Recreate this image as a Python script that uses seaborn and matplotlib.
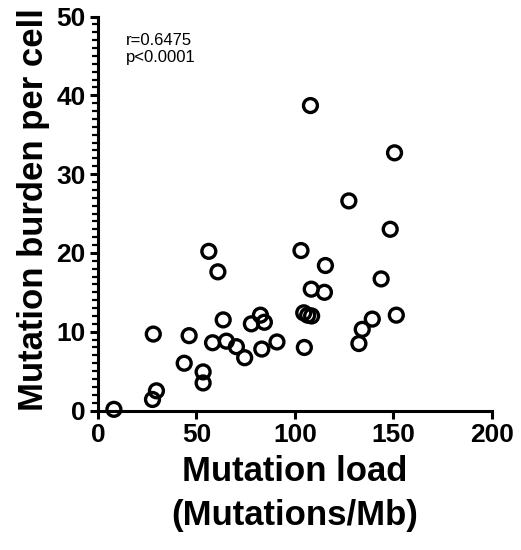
import matplotlib
matplotlib.use("Agg")
import matplotlib.pyplot as plt
import pandas as pd
import seaborn as sns
from matplotlib.ticker import MultipleLocator

sns.set_theme(style="ticks")
plt.rcParams["font.family"] = ["Liberation Sans", "DejaVu Sans"]
plt.rcParams.update({
    "text.color": "black",
    "axes.labelcolor": "black",
    "xtick.color": "black",
    "ytick.color": "black",
    "axes.edgecolor": "black",
})

# values
mutation_load = [
    8.1, 27.7, 29.7, 28.1, 43.8, 46.3, 53.4, 53.4, 56.3, 60.9,
    58.2, 63.6, 65.2, 70.3, 74.5, 77.9, 82.5, 84.5, 83.2, 90.9,
    103.1, 104.8, 107.9, 150.6, 127.4, 148.4, 115.5, 143.8, 108.3, 115.0,
    104.5, 106.5, 108.5, 151.5, 139.3, 134.2, 132.5,
]
burden_per_cell = [
    0.15, 1.4, 2.5, 9.7, 6.0, 9.5, 4.9, 3.5, 20.2, 17.6,
    8.6, 11.5, 8.8, 8.1, 6.7, 11.0, 12.1, 11.2, 7.8, 8.7,
    20.3, 8.0, 38.7, 32.7, 26.6, 23.0, 18.4, 16.7, 15.4, 15.0,
    12.4, 12.1, 12.0, 12.1, 11.6, 10.3, 8.5,
]
x_ticks = [0, 50, 100, 150, 200]
y_ticks = [0, 10, 20, 30, 40, 50]
stats_text = "r=0.6475\np<0.0001"

frame = pd.DataFrame({"load": mutation_load, "burden": burden_per_cell})

fig = plt.figure(figsize=(5.21, 5.5), dpi=100)
ax = fig.add_axes([0.188, 0.2536, 0.756, 0.7164])

sns.scatterplot(
    data=frame, x="load", y="burden", ax=ax,
    marker="o", s=100, facecolor="none", edgecolor="black", linewidth=2.4,
    clip_on=False, zorder=3,
)

ax.set_xlim(0, 200)
ax.set_ylim(0, 50)
ax.set_xticks(x_ticks)
ax.set_yticks(y_ticks)
ax.yaxis.set_minor_locator(MultipleLocator(1))
sns.despine(ax=ax)
for side in ["left", "bottom"]:
    ax.spines[side].set_linewidth(2.2)
ax.tick_params(axis="both", which="major", length=6, width=2.2,
               labelsize=19, pad=3)
ax.tick_params(axis="y", which="minor", length=4, width=1.6)
for label in ax.get_xticklabels() + ax.get_yticklabels():
    label.set_fontweight("bold")

ax.set_xlabel("Mutation load\n(Mutations/Mb)", fontsize=25, fontweight="bold",
              linespacing=1.4, labelpad=6)
ax.set_ylabel("Mutation burden per cell", fontsize=25, fontweight="bold")
ax.yaxis.set_label_coords(-0.122, 0.51)

ax.text(0.072, 0.958, stats_text, transform=ax.transAxes, fontsize=12,
        va="top", ha="left", linespacing=1.15)

fig.savefig("out.png", dpi=100)
